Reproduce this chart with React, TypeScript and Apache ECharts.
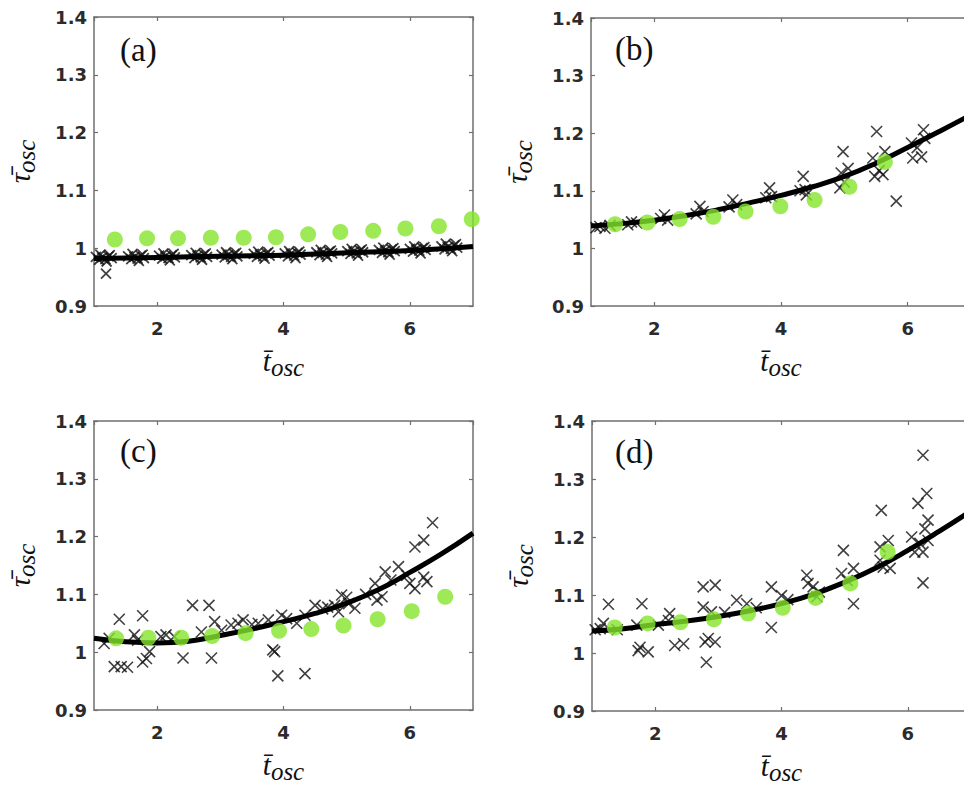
import React, { useEffect, useRef } from "react";
import * as echarts from "echarts";

// ---------- data ----------
const X_MIN = 1;
const X_MAX = 7;
const Y_MIN = 0.9;
const Y_MAX = 1.4;
const Y_STEP = 0.1;
const PANEL_LABELS = ["(a)", "(b)", "(c)", "(d)"];

// panel (a)
const crossesA = [
  [1.03, 0.985], [1.08, 0.98], [1.13, 0.984], [1.18, 0.981], [1.23, 0.986], [1.28, 0.983], [1.1, 0.989], [1.2, 0.977], [1.25, 0.988],
  [1.54, 0.986], [1.59, 0.981], [1.64, 0.985], [1.69, 0.982], [1.74, 0.987], [1.79, 0.983], [1.61, 0.99], [1.71, 0.978], [1.77, 0.989],
  [2.03, 0.987], [2.08, 0.982], [2.13, 0.986], [2.18, 0.983], [2.23, 0.988], [2.28, 0.984], [2.1, 0.991], [2.2, 0.979], [2.26, 0.99],
  [2.54, 0.988], [2.59, 0.983], [2.64, 0.987], [2.69, 0.984], [2.74, 0.989], [2.79, 0.985], [2.61, 0.992], [2.71, 0.98], [2.77, 0.991],
  [3.02, 0.989], [3.07, 0.984], [3.12, 0.988], [3.17, 0.985], [3.22, 0.99], [3.27, 0.986], [3.09, 0.993], [3.19, 0.981], [3.25, 0.992],
  [3.53, 0.99], [3.58, 0.985], [3.63, 0.989], [3.68, 0.986], [3.73, 0.991], [3.78, 0.987], [3.6, 0.994], [3.7, 0.982], [3.76, 0.993],
  [4.02, 0.991], [4.07, 0.986], [4.12, 0.99], [4.17, 0.987], [4.22, 0.992], [4.27, 0.989], [4.09, 0.995], [4.19, 0.983], [4.25, 0.994],
  [4.52, 0.993], [4.57, 0.988], [4.62, 0.992], [4.67, 0.989], [4.72, 0.994], [4.77, 0.991], [4.59, 0.997], [4.69, 0.985], [4.75, 0.996],
  [5.01, 0.995], [5.06, 0.99], [5.11, 0.994], [5.16, 0.991], [5.21, 0.996], [5.26, 0.993], [5.08, 0.999], [5.18, 0.987], [5.24, 0.998],
  [5.51, 0.997], [5.56, 0.992], [5.61, 0.996], [5.66, 0.993], [5.71, 0.998], [5.76, 0.995], [5.58, 1.001], [5.68, 0.989], [5.74, 1.0],
  [6.0, 0.999], [6.05, 0.994], [6.1, 0.998], [6.15, 0.996], [6.2, 1.0], [6.25, 0.997], [6.07, 1.003], [6.17, 0.991], [6.23, 1.002],
  [6.5, 1.003], [6.55, 0.998], [6.6, 1.002], [6.65, 0.999], [6.7, 1.005], [6.75, 1.001], [6.57, 1.008], [6.67, 0.995], [6.73, 1.007],
  [1.19, 0.956],
];
const fitA = [
  [1, 0.982], [1.5, 0.983], [2, 0.984], [2.5, 0.985], [3, 0.986], [3.5, 0.987], [4, 0.988],
  [4.5, 0.99], [5, 0.992], [5.5, 0.994], [6, 0.996], [6.5, 0.999], [7, 1.003],
];
const meansA = [
  [1.33, 1.015], [1.84, 1.017], [2.33, 1.017], [2.85, 1.018], [3.37, 1.018], [3.88, 1.019],
  [4.39, 1.024], [4.9, 1.028], [5.42, 1.03], [5.93, 1.034], [6.46, 1.038], [6.98, 1.05],
];

// panel (b)
const crossesB = [
  [1.08, 1.036], [1.14, 1.038], [1.22, 1.035], [1.3, 1.04],
  [1.58, 1.041], [1.64, 1.046], [1.72, 1.044],
  [2.1, 1.052], [2.16, 1.058], [2.21, 1.049],
  [2.66, 1.06], [2.72, 1.073], [2.77, 1.064],
  [3.18, 1.072], [3.24, 1.084], [3.3, 1.076],
  [3.76, 1.088], [3.82, 1.105], [3.85, 1.09],
  [4.3, 1.1], [4.35, 1.125], [4.38, 1.102], [4.4, 1.093],
  [4.93, 1.105], [4.95, 1.131], [4.98, 1.168], [5.0, 1.115], [5.06, 1.139],
  [5.45, 1.157], [5.48, 1.125], [5.51, 1.203], [5.55, 1.135], [5.61, 1.128], [5.64, 1.168],
  [5.82, 1.082],
  [6.06, 1.183], [6.08, 1.157], [6.15, 1.175], [6.22, 1.159], [6.25, 1.206], [6.27, 1.191],
];
const fitB = [
  [1, 1.039], [1.5, 1.043], [2, 1.049], [2.5, 1.057], [3, 1.067], [3.5, 1.079], [4, 1.092],
  [4.5, 1.107], [5, 1.125], [5.5, 1.148], [6, 1.175], [6.5, 1.203], [7, 1.232],
];
const meansB = [
  [1.38, 1.042], [1.89, 1.045], [2.4, 1.051], [2.93, 1.055], [3.44, 1.064], [3.99, 1.073],
  [4.53, 1.084], [5.08, 1.107], [5.64, 1.15],
];

// panel (c)
const crossesC = [
  [1.4, 1.057], [1.77, 1.063], [2.56, 1.081], [2.82, 1.081], [2.91, 1.053],
  [6.36, 1.224], [6.08, 1.182], [6.22, 1.194], [5.61, 1.139], [5.82, 1.148],
  [5.45, 1.119], [5.56, 1.096], [5.48, 1.09], [5.95, 1.133], [6.0, 1.119],
  [6.08, 1.11], [6.27, 1.122], [6.22, 1.13], [4.92, 1.099], [5.03, 1.084],
  [5.13, 1.076], [4.81, 1.081], [4.87, 1.07], [4.5, 1.081], [4.34, 1.064],
  [4.21, 1.05], [3.97, 1.064], [3.76, 1.056], [3.6, 1.05], [3.28, 1.05],
  [3.36, 1.056], [3.83, 1.004], [3.86, 1.001], [3.91, 0.959], [4.34, 0.963],
  [2.41, 0.99], [2.86, 0.99], [1.32, 0.975], [1.43, 0.975], [1.53, 0.974],
  [1.77, 0.983], [1.83, 0.989], [1.88, 1.001], [1.16, 1.015], [1.24, 1.024],
  [1.64, 1.03], [1.69, 1.021], [2.06, 1.027], [2.14, 1.03], [2.27, 1.027],
  [2.7, 1.035], [3.02, 1.038], [3.17, 1.047], [4.62, 1.075], [5.0, 1.095],
  [5.3, 1.1], [5.7, 1.125], [4.7, 1.078], [3.5, 1.048], [4.05, 1.058],
];
const fitC = [
  [1, 1.024], [1.5, 1.018], [2, 1.016], [2.5, 1.019], [3, 1.029], [3.5, 1.04], [4, 1.053],
  [4.5, 1.067], [5, 1.085], [5.5, 1.108], [6, 1.138], [6.5, 1.17], [7, 1.206],
];
const meansC = [
  [1.35, 1.024], [1.86, 1.025], [2.38, 1.025], [2.87, 1.028], [3.4, 1.033], [3.93, 1.037],
  [4.44, 1.04], [4.95, 1.046], [5.49, 1.057], [6.03, 1.071], [6.56, 1.096],
];

// panel (d)
const crossesD = [
  [1.26, 1.084], [1.79, 1.085], [1.71, 1.048], [1.73, 1.004], [1.89, 1.002],
  [1.76, 1.01], [1.18, 1.051], [1.13, 1.042], [2.23, 1.068], [2.21, 1.056],
  [2.31, 1.013], [2.45, 1.016], [2.76, 1.114], [2.95, 1.117], [2.76, 1.079],
  [2.89, 1.071], [2.79, 1.019], [2.95, 1.019], [2.84, 1.025], [2.81, 0.984],
  [3.29, 1.091], [3.45, 1.085], [3.84, 1.114], [4.0, 1.099], [3.84, 1.044],
  [4.4, 1.134], [4.5, 1.114], [4.56, 1.097], [4.42, 1.12], [4.98, 1.177],
  [5.14, 1.146], [4.95, 1.137], [5.14, 1.085], [5.04, 1.125], [5.58, 1.246],
  [5.69, 1.194], [5.56, 1.183], [5.56, 1.16], [5.72, 1.146], [5.61, 1.148],
  [6.24, 1.341], [6.16, 1.258], [6.3, 1.275], [6.32, 1.229], [6.27, 1.214],
  [6.06, 1.2], [6.11, 1.174], [6.24, 1.174], [6.19, 1.189], [6.32, 1.194],
  [6.24, 1.121], [1.05, 1.04], [1.4, 1.04], [2.05, 1.048], [3.1, 1.07],
  [3.6, 1.078], [4.1, 1.092], [4.6, 1.105],
];
const fitD = [
  [1, 1.038], [1.5, 1.042], [2, 1.049], [2.5, 1.055], [3, 1.063], [3.5, 1.073], [4, 1.085],
  [4.5, 1.101], [5, 1.122], [5.5, 1.147], [6, 1.177], [6.5, 1.21], [7, 1.245],
];
const meansD = [
  [1.36, 1.044], [1.88, 1.051], [2.4, 1.053], [2.93, 1.058], [3.47, 1.068], [4.02, 1.078],
  [4.54, 1.095], [5.09, 1.12], [5.68, 1.174],
];

const PANELS = [
  { crosses: crossesA, fit: fitA, means: meansA },
  { crosses: crossesB, fit: fitB, means: meansB },
  { crosses: crossesC, fit: fitC, means: meansC },
  { crosses: crossesD, fit: fitD, means: meansD },
];

// ---------- layout / style ----------
const GRIDS = [
  { left: 94, top: 17, width: 379, height: 289 },
  { left: 591, top: 18, width: 380, height: 288 },
  { left: 94, top: 421, width: 379, height: 289 },
  { left: 592, top: 421, width: 379, height: 290 },
];
const LABEL_POS = [
  [120, 50],
  [615, 49],
  [120, 451],
  [615, 452],
];
const BOX = "#6f6f6f";
const TICK_FONT = { fontFamily: "DejaVu Sans", fontWeight: "bold", fontSize: 18, color: "#2b2b2b" };
const GREEN = "#84e52c";
const CROSS = "path://M0,0L10,10M0,10L10,0";

const nameRich = {
  m: {
    fontFamily: "Liberation Serif, DejaVu Serif",
    fontStyle: "italic",
    fontSize: 29,
    color: "#111",
    verticalAlign: "bottom",
    padding: [0, 0, 5, 0],
  },
  s: {
    fontFamily: "Liberation Serif, DejaVu Serif",
    fontStyle: "italic",
    fontSize: 25,
    color: "#111",
    verticalAlign: "bottom",
  },
};

function xAxis(gridIndex: number, bottom: boolean) {
  return {
    type: "value",
    gridIndex,
    position: bottom ? "bottom" : "top",
    min: X_MIN,
    max: X_MAX,
    splitNumber: 3,
    axisLine: { show: true, onZero: false, lineStyle: { color: BOX, width: 1.5 } },
    axisTick: { show: true, inside: true, length: 4, lineStyle: { color: BOX, width: 1.2 } },
    axisLabel: { show: bottom, showMinLabel: false, showMaxLabel: false, margin: 13, ...TICK_FONT },
    splitLine: { show: false },
    name: bottom ? "{m|t\u0304}{s|osc}" : "",
    nameLocation: "middle",
    nameGap: 40,
    nameTextStyle: { rich: nameRich },
  };
}

function yAxis(gridIndex: number, left: boolean) {
  return {
    type: "value",
    gridIndex,
    position: left ? "left" : "right",
    min: Y_MIN,
    max: Y_MAX,
    interval: Y_STEP,
    axisLine: { show: true, onZero: false, lineStyle: { color: BOX, width: 1.5 } },
    axisTick: { show: true, inside: true, length: 4, lineStyle: { color: BOX, width: 1.2 } },
    axisLabel: { show: left, margin: 7, ...TICK_FONT },
    splitLine: { show: false },
    name: left ? "{m|\u03c4\u0304}{s|osc}" : "",
    nameLocation: "middle",
    nameGap: 55,
    nameRotate: 90,
    nameTextStyle: { rich: nameRich },
  };
}

export default function App() {
  const ref = useRef<HTMLDivElement>(null);
  useEffect(() => {
    if (!ref.current) return;
    const chart = echarts.init(ref.current, null, { renderer: "svg" });
    const xAxes: any[] = [];
    const yAxes: any[] = [];
    for (let i = 0; i < 4; i++) {
      xAxes.push(xAxis(i, true));
      yAxes.push(yAxis(i, true));
    }
    for (let i = 0; i < 4; i++) {
      xAxes.push(xAxis(i, false));
      yAxes.push(yAxis(i, false));
    }
    const series: any[] = [];
    PANELS.forEach((p, i) => {
      series.push({
        type: "scatter",
        xAxisIndex: i,
        yAxisIndex: i,
        data: p.crosses,
        symbol: CROSS,
        symbolSize: i === 0 ? 10 : 11,
        itemStyle: { color: "transparent", borderColor: "#111", borderWidth: i === 0 ? 1.8 : 1.6 },
        z: 2,
      });
      series.push({
        type: "line",
        xAxisIndex: i,
        yAxisIndex: i,
        data: p.fit,
        smooth: true,
        showSymbol: false,
        lineStyle: { color: "#000", width: 5 },
        z: 3,
      });
      series.push({
        type: "scatter",
        xAxisIndex: i,
        yAxisIndex: i,
        data: p.means,
        symbol: "circle",
        symbolSize: 16,
        itemStyle: { color: GREEN },
        z: 4,
      });
    });
    chart.setOption({
      animation: false,
      backgroundColor: "#fff",
      grid: GRIDS.map((g) => ({ ...g, containLabel: false })),
      xAxis: xAxes,
      yAxis: yAxes,
      series,
      graphic: PANEL_LABELS.map((t, i) => ({
        type: "text",
        x: LABEL_POS[i][0],
        y: LABEL_POS[i][1],
        z: 10,
        style: {
          text: t,
          fontFamily: "Liberation Serif",
          fontSize: 33,
          fill: "#111",
          align: "left",
          verticalAlign: "middle",
        },
      })),
    });
    return () => chart.dispose();
  }, []);
  return (
    <div style={{ position: "absolute", left: 0, top: 0, width: 964, height: 787, overflow: "hidden", background: "#fff" }}>
      <div ref={ref} style={{ width: 980, height: 787 }} />
    </div>
  );
}
